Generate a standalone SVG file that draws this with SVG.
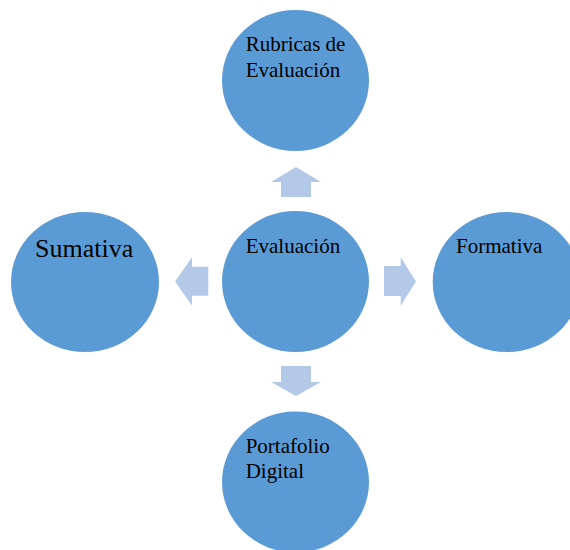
<svg xmlns="http://www.w3.org/2000/svg" width="570" height="550" viewBox="0 0 570 550">
<style>
.node{fill:#5B9BD5}
.arr{fill:#B4C9E7}
.t{font-family:"Liberation Serif","Times New Roman",serif;font-size:21px;fill:#000}
.big{font-size:26px}
</style>
<rect width="570" height="550" fill="#fff"/>
<g id="connectors">
<polygon class="arr" points="296,167 321,182 311,182 311,197 281,197 281,182 271,182"/>
<polygon class="arr" points="296,396 321,382 311,382 311,366 281,366 281,382 271,382"/>
<polygon class="arr" points="175,281.5 192,257.3 192,266.7 208.3,266.7 208.3,295.7 192,295.7 192,305.7"/>
<polygon class="arr" points="416,281.5 400.7,257.3 400.7,266 384,266 384,296 400.7,296 400.7,305.7"/>
</g>
<g id="node-top">
<ellipse class="node" cx="295.5" cy="80.5" rx="73.5" ry="70.5"/>
<text class="t" x="245.7" y="50.7">Rubricas de</text>
<text class="t" x="245.7" y="76.7">Evaluación</text>
</g>
<g id="node-center">
<ellipse class="node" cx="295.5" cy="281.5" rx="73.5" ry="70.5"/>
<text class="t" x="245.7" y="252.7">Evaluación</text>
</g>
<g id="node-left">
<ellipse class="node" cx="85" cy="282" rx="74" ry="70"/>
<text class="t big" x="35" y="257.3">Sumativa</text>
</g>
<g id="node-right">
<ellipse class="node" cx="506.7" cy="282" rx="74" ry="70"/>
<text class="t" x="456" y="252.7">Formativa</text>
</g>
<g id="node-bottom">
<ellipse class="node" cx="295.5" cy="482" rx="73.5" ry="70.5"/>
<text class="t" x="245.7" y="452.7">Portafolio</text>
<text class="t" x="245.7" y="477.7">Digital</text>
</g>
</svg>
